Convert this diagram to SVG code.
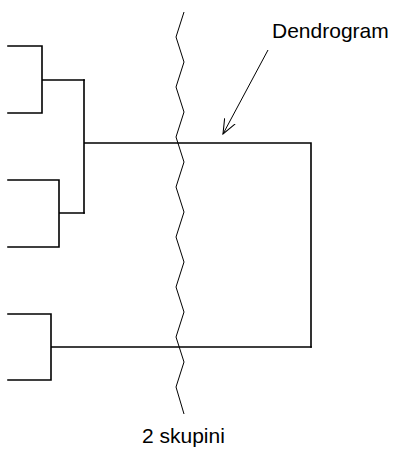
<svg xmlns="http://www.w3.org/2000/svg" width="395" height="449" viewBox="0 0 395 449">
<style>
.d{fill:none;stroke:#000;stroke-width:1.6;stroke-linecap:square}
.z{fill:none;stroke:#000;stroke-width:1}
.t{font-family:"Liberation Sans",Arial,sans-serif;font-size:21px;fill:#000}
</style>
<defs>
<marker id="open" viewBox="0 0 12 12" refX="11" refY="6" markerWidth="16" markerHeight="16" markerUnits="userSpaceOnUse" orient="auto">
<path d="M0,1.5 L11,6 L0,10.5" fill="none" stroke="#000" stroke-width="0.8"/>
</marker>
</defs>
<rect width="395" height="449" fill="#fff"/>
<g id="connectors">
<g id="cluster1"><path class="d" d="M8,46 H42 V113 H8 M42,80 H84"/></g>
<g id="cluster2"><path class="d" d="M8,180 H59 V247 H8 M59,213 H84"/></g>
<g id="cluster3"><path class="d" d="M8,314 H51 V380 H8 M51,347 H311"/></g>
<g id="merge12"><path class="d" d="M84,80 V213 M84,143 H311 V347"/></g>
</g>
<g id="cut"><path class="z" d="M184,12 L176,37 L184,62 L176,87 L184,112 L176,137 L184,162 L176,187 L184,212 L176,237 L184,262 L176,287 L184,312 L176,337 L184,362 L176,387 L184,414"/></g>
<g id="label-dendrogram">
<text class="t" x="272" y="38">Dendrogram</text>
<path d="M268,50 L223,134" fill="none" stroke="#000" stroke-width="1" marker-end="url(#open)"/>
</g>
<g id="label-skupini"><text class="t" x="142" y="443">2 skupini</text></g>
</svg>
